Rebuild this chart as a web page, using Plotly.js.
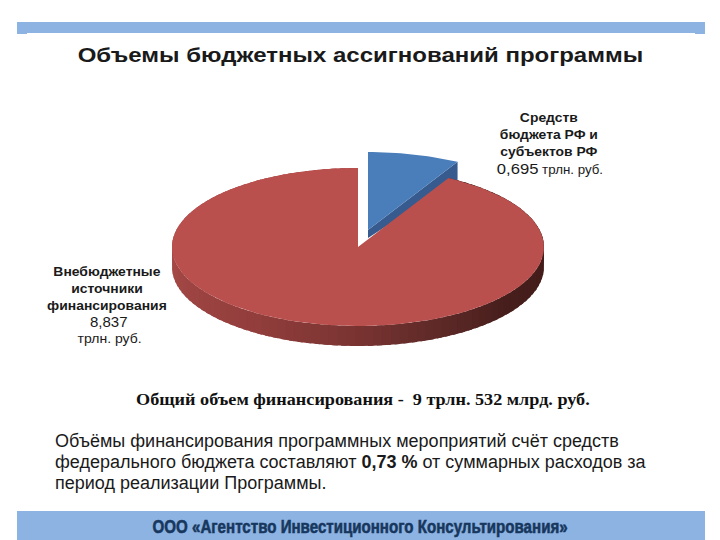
<!DOCTYPE html>
<html><head><meta charset="utf-8">
<script src="https://cdn.plot.ly/plotly-3.0.1.min.js"></script>
<style>html,body{margin:0;padding:0;background:#fff}
.annotation text{transform-box:fill-box;transform-origin:center}
.annotation[data-index="0"] text{transform:scaleX(1.143)}
.annotation[data-index="1"] text,.annotation[data-index="3"] text{transform:scaleX(1.07)}
.annotation[data-index="2"] text{transform:scaleX(1.11)}
.annotation[data-index="5"] text{transform:scaleX(1.12)}
.annotation[data-index="6"] text{transform:scaleX(1.135)}
.annotation[data-index="10"] text{transform:scaleX(.795);stroke:#17375e;stroke-width:.6px}
</style></head>
<body><div id="chart" style="width:720px;height:540px"></div>
<script>
const sliceNames = ['Средств<br>бюджета РФ и<br>субъектов РФ', 'Внебюджетные<br>источники<br>финансирования'];
const sliceValues = [0.695, 8.837];
const sliceValueText = ['0,695', '8,837'];
const titleText = 'Объемы бюджетных ассигнований программы';
const totalText = 'Общий объем финансирования -  9 трлн. 532 млрд. руб.';
const bodyLines = ['Объёмы финансирования программных мероприятий счёт средств',
  'федерального бюджета составляют <b>0,73 %</b> от суммарных расходов за',
  'период реализации Программы.'];
const footerText = 'ООО «Агентство Инвестиционного Консультирования»';

const total = sliceValues[0] + sliceValues[1];
const cx = 358, cy = 247, rx = 186, ry = 79, depth = 20, persp = 1.11;
const blueEnd = sliceValues[0] / total * 2 * Math.PI * persp;
const px = (a, c, r) => c + r * Math.sin(a);
const py = (a, c, r) => c - r * Math.cos(a);
const traces = [];
function poly(xs, ys, color) {
  traces.push({type:'scatter', mode:'lines', x:xs, y:ys, fill:'toself', fillcolor:color,
    line:{width:0}, hoverinfo:'skip', showlegend:false});
}
function mix(a, b, t) { return 'rgb(' + a.map((v, i) => Math.round(v + (b[i] - v) * t)).join(',') + ')'; }
function wallColor(a) {
  const stops = [[0.3,[62,26,24]],[2.2,[70,30,28]],[2.8,[100,44,42]],[3.14,[122,52,50]],[3.7,[146,62,60]],[4.7,[168,74,72]],[6.3,[170,76,74]]];
  for (let i = 1; i < stops.length; i++) if (a <= stops[i][0]) {
    const t = (a - stops[i-1][0]) / (stops[i][0] - stops[i-1][0]);
    return mix(stops[i-1][1], stops[i][1], Math.max(0, t));
  }
  return mix(stops[6][1], stops[6][1], 0);
}
// blue slice (pulled out), side then top
const bx = cx + 10, by = cy - 17, brx = 184, bry = 78;
const bSteps = [...Array(21).keys()].map(i => i / 20 * blueEnd);
const bTopX = bSteps.map(a => px(a, bx, brx)), bTopY = bSteps.map(a => py(a, by, bry));
const endX = bTopX[20], endY = bTopY[20];
poly([bx, endX, endX, bx, bx], [by, endY, endY + 18, by + 8, by], '#375b8e');
poly([bx, ...bTopX, bx], [by, ...bTopY, by], '#4a7ebb');
// red side wall, back to front with overlap so no seams appear
const nF = 120;
const angStart = blueEnd, angEnd = 2 * Math.PI;
for (let i = 0; i < nF; i++) {
  const a0 = angStart + (angEnd - angStart) * i / nF;
  const a1 = Math.min(angEnd, angStart + (angEnd - angStart) * (i + 1.6) / nF);
  poly([px(a0,cx,rx), px(a1,cx,rx), px(a1,cx,rx), px(a0,cx,rx)],
       [py(a0,cy,ry), py(a1,cy,ry), py(a1,cy + depth,ry), py(a0,cy + depth,ry)], wallColor(a0));
}
// red slice top
const rSteps = [...Array(121).keys()].map(i => angStart + (angEnd - angStart) * i / 120);
poly([cx, ...rSteps.map(a => px(a,cx,rx)), cx], [cy, ...rSteps.map(a => py(a,cy,ry)), cy], '#b9504e');

const ann = (x, y, text, size, opts) => Object.assign({xref:'x', yref:'y', x, y, text, showarrow:false,
  font:{family:'Liberation Sans', size, color:'#1a1a1a'}, xanchor:'center', yanchor:'middle', align:'center'}, opts || {});
const annotations = [
  ann(360, 54, '<b>' + titleText + '</b>', 21),
  ann(549, 134, '<b>' + sliceNames[0] + '</b>', 13),
  ann(550, 168, '<span style="font-size:15px">' + sliceValueText[0] + '</span> трлн. руб.', 12),
  ann(107, 288, '<b>' + sliceNames[1] + '</b>', 13),
  ann(109, 321, sliceValueText[1], 15),
  ann(109, 339, 'трлн. руб.', 12.5),
  ann(363, 400, '<b>' + totalText + '</b>', 16, {font:{family:'Liberation Serif', size:16, color:'#111'}}),
  ann(53, 441, bodyLines[0], 18, {xanchor:'left'}),
  ann(53, 462, bodyLines[1], 18, {xanchor:'left'}),
  ann(53, 483, bodyLines[2], 18, {xanchor:'left'}),
  ann(360, 526, '<b>' + footerText + '</b>', 19, {font:{family:'Liberation Sans', size:19, color:'#17375e'}})
];
const shapes = [
  {type:'rect', xref:'x', yref:'y', x0:17, x1:705, y0:22, y1:34, fillcolor:'#8db3e2', line:{width:0}, layer:'below'},
  {type:'rect', xref:'x', yref:'y', x0:27, x1:695, y0:33, y1:34, fillcolor:'#ffffff', line:{width:0}, layer:'below'},
  {type:'rect', xref:'x', yref:'y', x0:17, x1:705, y0:511, y1:540, fillcolor:'#8db3e2', line:{width:0}, layer:'below'}
];
Plotly.newPlot('chart', traces, {
  width:720, height:540, margin:{l:0,r:0,t:0,b:0}, paper_bgcolor:'#fff', plot_bgcolor:'#fff', showlegend:false,
  xaxis:{range:[0,720], visible:false, fixedrange:true},
  yaxis:{range:[540,0], visible:false, fixedrange:true},
  annotations, shapes
}, {displayModeBar:false, staticPlot:true});
</script></body></html>
